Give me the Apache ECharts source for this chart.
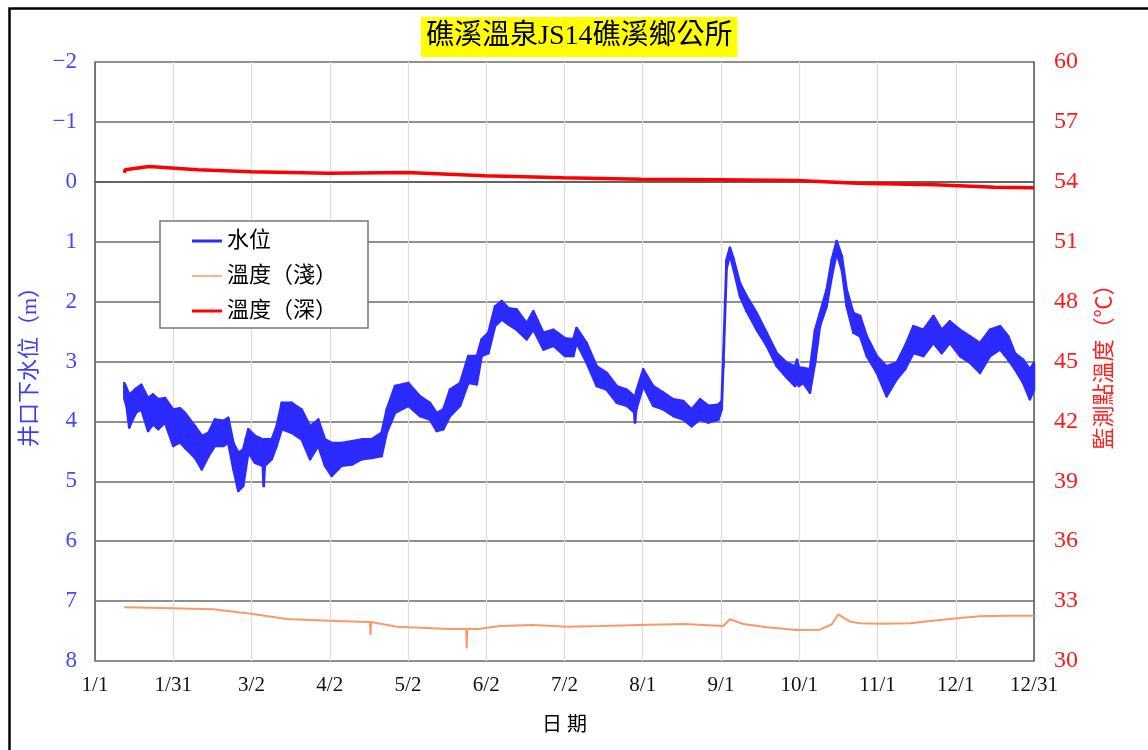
<!DOCTYPE html>
<html>
<head>
<meta charset="utf-8">
<script src="https://cdn.jsdelivr.net/npm/echarts@6/dist/echarts.min.js"></script>
<style>
html,body{margin:0;padding:0;background:#fff;}
#chart{width:1148px;height:750px;}
</style>
</head>
<body>
<div id="chart"></div>
<script>
// X tick labels (axis runs 0..365 days from 1/1, 12 equal steps)
var xTickLabels = ['1/1','1/31','3/2','4/2','5/2','6/2','7/2','8/1','9/1','10/1','11/1','12/1','12/31'];

// 水位 (m below wellhead): day of year, upper and lower edge of the daily oscillation band
var waterDays   = [11.4,12.3,13.3,14.3,16,18,20.6,22.5,24.6,27.2,30.4,33,35,38.9,41.5,44.1,46.6,49.9,51.8,53.8,55.7,57.6,58.6,59.6,62.2,65.2,65.6,66,68.7,70.6,72.6,76.4,80.3,83.6,86.8,89.4,92,95.9,99.8,103.7,107.5,111.4,113.4,116.6,121.8,126.3,130.2,132.8,135.4,138,141.9,145.1,148.4,150.3,152.9,155.5,158.1,160.7,163.9,167.8,170.4,174.3,178.2,182.7,185.9,187.2,191.1,195,198.9,202.8,206.7,209.6,209.9,210.4,213.1,217,220.9,224.8,228.7,231.9,235.2,238.4,242.3,243.6,244.2,245.5,246.8,248.1,250.7,253.3,257.2,261.1,265,268.9,272.1,272.9,273.6,275.3,277.9,279.9,281.8,284.4,286.4,288.3,290.3,292.2,294.8,297.4,300,303.9,307.7,311.6,314.9,318.1,322,325.9,329.1,332.3,336.2,340.1,344,347.9,351.8,355,357.6,360.8,363.4,365];
var waterTop    = [3.36,3.45,3.55,3.52,3.45,3.39,3.61,3.55,3.63,3.61,3.8,3.78,3.86,4.08,4.24,4.19,3.97,3.99,3.94,4.36,4.52,4.47,4.3,4.13,4.24,4.3,4.4,4.3,4.3,4.08,3.69,3.69,3.8,4.08,3.97,4.3,4.36,4.36,4.33,4.3,4.3,4.19,3.8,3.41,3.36,3.58,3.69,3.86,3.8,3.47,3.36,2.91,2.91,2.63,2.52,2.08,1.99,2.11,2.13,2.36,2.16,2.52,2.47,2.61,2.63,2.44,2.69,3.08,3.19,3.41,3.47,3.58,3.6,3.5,3.13,3.41,3.52,3.63,3.66,3.8,3.63,3.74,3.72,3.66,2.95,1.3,1.1,1.27,1.69,1.91,2.19,2.52,2.86,3.02,3.08,2.97,3.1,3.11,3.13,2.47,2.19,1.8,1.3,0.99,1.24,1.8,2.19,2.24,2.58,2.91,3.08,3.02,2.74,2.41,2.47,2.24,2.47,2.33,2.47,2.58,2.69,2.47,2.41,2.58,2.86,2.97,3.13,3.02];
var waterBottom = [3.62,3.75,4.1,4.0,3.85,3.8,4.16,4.05,4.13,4.02,4.41,4.35,4.44,4.61,4.8,4.58,4.41,4.41,4.36,4.8,5.16,5.08,4.8,4.52,4.69,4.74,5.08,4.74,4.63,4.41,4.13,4.19,4.3,4.63,4.41,4.74,4.91,4.74,4.72,4.63,4.61,4.58,4.19,3.86,3.74,3.91,3.97,4.16,4.13,3.91,3.74,3.36,3.38,2.91,2.86,2.41,2.3,2.38,2.47,2.63,2.47,2.8,2.74,2.91,2.91,2.69,3.02,3.41,3.47,3.69,3.74,3.85,4.02,3.8,3.41,3.74,3.8,3.91,3.97,4.08,3.97,4.02,3.97,3.8,3.1,1.45,1.22,1.44,1.91,2.16,2.47,2.74,3.08,3.27,3.41,3.35,3.41,3.36,3.52,3.02,2.41,2.08,1.58,1.19,1.47,2.08,2.52,2.58,2.91,3.19,3.58,3.3,3.13,2.86,2.91,2.69,2.86,2.69,2.91,3.02,3.19,2.91,2.8,2.97,3.13,3.36,3.63,3.47];

// 溫度（淺） °C
var shallowDays = [11.4,30.4,45.9,61.4,74.5,91.3,105.6,106.9,107.1,107.3,117.3,138,144.3,144.5,144.7,149,157.4,170.4,183.4,196.3,211.8,228.7,244.2,246.8,252,261.1,272.8,281.8,286.4,288.9,293.5,297.4,305.1,316.8,325.7,335,344,354.4,365];
var shallowTemp = [32.69,32.64,32.59,32.35,32.1,32.02,31.95,31.95,31.3,31.95,31.72,31.6,31.6,30.64,31.6,31.6,31.75,31.8,31.72,31.75,31.8,31.85,31.75,32.09,31.85,31.69,31.55,31.57,31.84,32.34,31.97,31.89,31.86,31.89,32.02,32.14,32.24,32.27,32.27];

// 溫度（深） °C
var deepDays = [11.4,11.7,21,40,60.6,91,121.3,151.6,181.9,212.2,242.6,272.9,296.2,326.5,349.8,365];
var deepTemp = [54.45,54.6,54.77,54.6,54.5,54.43,54.47,54.3,54.2,54.13,54.1,54.07,53.93,53.85,53.73,53.7];

function zip(a,b){var r=[];for(var i=0;i<a.length;i++){r.push([a[i],b[i]]);}return r;}
var bandData = [];
for (var i=0;i<waterDays.length;i++){ bandData.push([waterDays[i], waterTop[i], waterBottom[i]]); }

var serif = '"Liberation Serif","Noto Sans CJK TC",serif';
var step = 365/12;
var BLUE = '#2b2bff', ORANGE = '#f99a66', RED = '#ff0000';

var chart = echarts.init(document.getElementById('chart'), null, {renderer:'canvas'});
chart.setOption({
  animation:false,
  backgroundColor:'#ffffff',
  graphic:[{
    type:'rect', left:7, top:6, shape:{width:1200,height:800},
    style:{fill:'none', stroke:'#000', lineWidth:2.5}, z:-10, silent:true
  }],
  title:{
    text:'礁溪溫泉JS14礁溪鄉公所',
    left:421, top:17,
    backgroundColor:'#ffff00',
    padding:[6,5,6,5],
    textStyle:{fontFamily:serif, fontSize:28, fontWeight:'normal', color:'#000'}
  },
  legend:{
    orient:'vertical', left:160, top:221,
    backgroundColor:'#fff', borderColor:'#777', borderWidth:1.5,
    padding:[9,31,6,32],
    itemWidth:30, itemHeight:20, itemGap:13, itemTextGap:5,
    textStyle:{fontFamily:serif, fontSize:22, color:'#000'},
    data:[
      {name:'水位', icon:'path://M0,0L30,0L30,3L0,3Z', itemStyle:{color:BLUE}},
      {name:'溫度（淺）', icon:'path://M0,0L30,0L30,1.5L0,1.5Z', itemStyle:{color:ORANGE}},
      {name:'溫度（深）', icon:'path://M0,0L30,0L30,3L0,3Z', itemStyle:{color:RED}}
    ]
  },
  grid:{left:95, top:62, right:114, bottom:89},
  xAxis:{
    type:'value', min:0, max:365, interval:step,
    name:'日 期', nameLocation:'middle', nameGap:55,
    nameTextStyle:{fontFamily:serif, fontSize:20, color:'#000'},
    axisLine:{show:true, lineStyle:{color:'#555', width:1.5}},
    axisTick:{show:false},
    axisLabel:{fontFamily:serif, fontSize:21, color:'#111', margin:14,
      formatter:function(v){var i=Math.round(v/step);return xTickLabels[i]||'';}},
    splitLine:{show:true, lineStyle:{color:'#dcdcdc', width:1.2}}
  },
  yAxis:[{
    type:'value', inverse:true, min:-2, max:8, interval:1, position:'left',
    name:'井口下水位（m）', nameLocation:'middle', nameRotate:90, nameGap:52,
    nameTextStyle:{fontFamily:serif, fontSize:22, color:'#3a3aff'},
    axisLine:{show:true, lineStyle:{color:'#555', width:1.5}},
    axisTick:{show:false},
    axisLabel:{fontFamily:serif, fontSize:23, color:'#4646ff', margin:18,
      formatter:function(v){return v<0?('−'+Math.abs(v)):String(v);}},
    splitLine:{show:true, lineStyle:{color:'#6a6a6a', width:1.5}}
  },{
    type:'value', min:30, max:60, interval:3, position:'right',
    name:'監測點溫度（℃）', nameLocation:'middle', nameRotate:90, nameGap:60,
    nameTextStyle:{fontFamily:serif, fontSize:22, color:'#ff2020'},
    axisLine:{show:true, lineStyle:{color:'#555', width:1.5}},
    axisTick:{show:false},
    axisLabel:{fontFamily:serif, fontSize:24, color:'#ff1a1a', margin:20},
    splitLine:{show:false}
  }],
  series:[{
    name:'水位', type:'custom', yAxisIndex:0, xAxisIndex:0,
    data:bandData,
    encode:{x:0, y:[1,2]},
    itemStyle:{color:BLUE},
    z:3,
    renderItem:function(params, api){
      var i = params.dataIndex;
      if (i >= bandData.length-1) return null;
      var n = bandData[i+1];
      var p1 = api.coord([api.value(0), api.value(1)]);
      var p2 = api.coord([n[0], n[1]]);
      var p3 = api.coord([n[0], n[2]]);
      var p4 = api.coord([api.value(0), api.value(2)]);
      return {type:'polygon', shape:{points:[p1,p2,p3,p4]},
        style:{fill:BLUE, stroke:BLUE, lineWidth:2.5, lineJoin:'round'}};
    }
  },{
    name:'溫度（淺）', type:'line', yAxisIndex:1, symbol:'none',
    data:zip(shallowDays, shallowTemp),
    lineStyle:{color:ORANGE, width:2}, itemStyle:{color:ORANGE}, z:2
  },{
    name:'溫度（深）', type:'line', yAxisIndex:1, symbol:'none',
    data:zip(deepDays, deepTemp),
    lineStyle:{color:RED, width:3.5}, itemStyle:{color:RED}, z:2
  }]
});
</script>
</body>
</html>
